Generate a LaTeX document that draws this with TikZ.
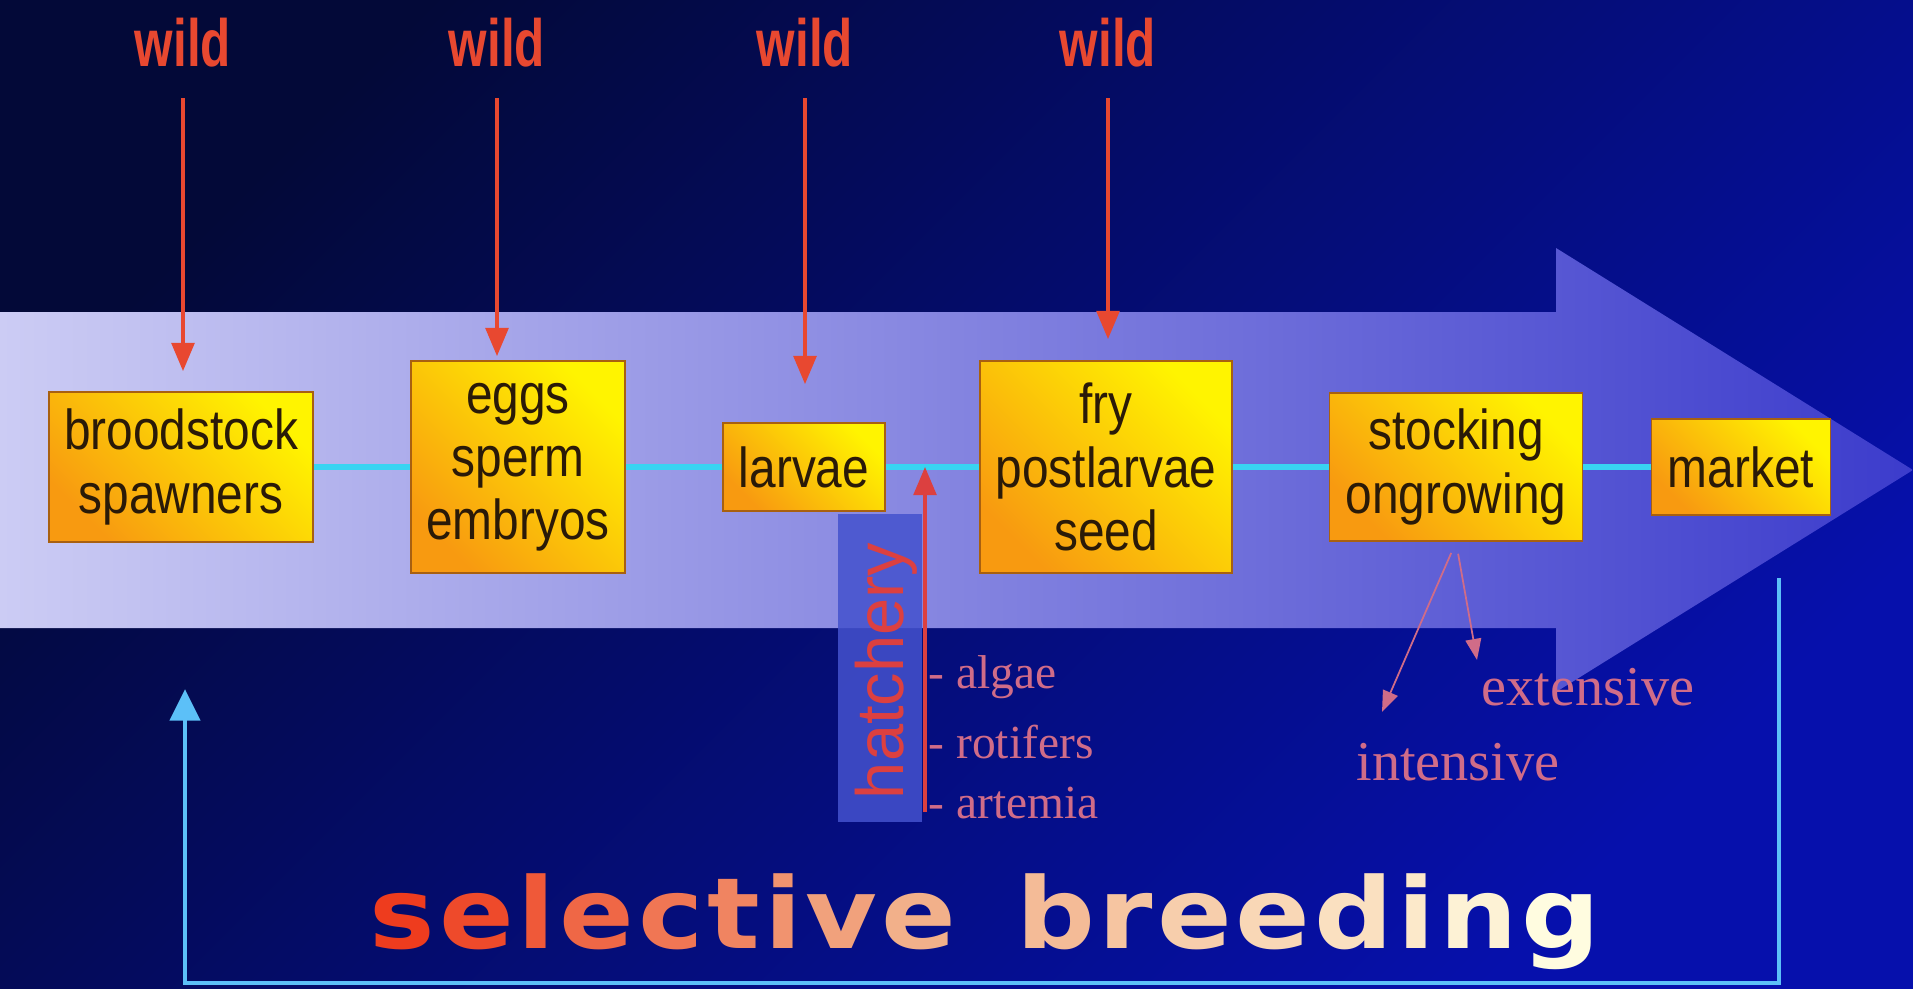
\documentclass[tikz,border=0pt]{standalone}
\usepackage{fontspec}
\setmainfont{Liberation Sans}
\newfontfamily\boxfont[FakeStretch=0.85]{Liberation Sans}
\newfontfamily\wildfont[FakeStretch=0.74]{Liberation Sans}
\newfontfamily\feedfont{Liberation Serif}
\newfontfamily\breedfont[FakeStretch=1.12]{DejaVu Sans}
\usetikzlibrary{arrows.meta}

\definecolor{bgdark}{HTML}{030938}
\definecolor{bgblue}{HTML}{0610AC}
\definecolor{shaftlight}{HTML}{CCCCF4}
\definecolor{headblue}{HTML}{3C3CCC}
\definecolor{stageyellow}{HTML}{FFF400}
\definecolor{stageorange}{HTML}{F89A10}
\definecolor{stageedge}{HTML}{A86010}
\definecolor{stagetext}{HTML}{2A1A08}
\definecolor{flowcyan}{HTML}{38D4F2}
\definecolor{loopblue}{HTML}{5CC0F8}
\definecolor{wildred}{HTML}{E84830}
\definecolor{hatchred}{HTML}{DC4040}
\definecolor{hatchblue}{HTML}{4452CE}
\definecolor{feedpink}{HTML}{D06C88}
\definecolor{sbred}{HTML}{EE3C1E}
\definecolor{sbpeach}{HTML}{F2B08A}
\definecolor{sbcream}{HTML}{FFFCE0}

\tikzset{
  stage/.style={rectangle, draw=stageedge, line width=0.5pt, inner sep=0pt,
    top color=stageyellow, bottom color=stageorange, shading angle=-45,
    align=center, text=stagetext, font=\boxfont\fontsize{16}{18}\selectfont},
  flowline/.style={flowcyan, line width=1.7pt},
  wildlabel/.style={inner sep=0pt, text=wildred, font=\wildfont\bfseries\fontsize{19}{21}\selectfont},
  wildarrow/.style={wildred, line width=0.9pt, -{Triangle[length=8pt,width=6.5pt]}},
  hatchpanel/.style={rectangle, fill=hatchblue, fill opacity=0.85, inner sep=0pt,
    minimum width=0.84cm, minimum height=3.07cm},
  hatchlabel/.style={inner sep=0pt, text=hatchred, font=\fontsize{19}{20}\selectfont},
  hatcharrow/.style={hatchred, line width=0.9pt, -{Triangle[length=8pt,width=6.5pt]}},
  feedlabel/.style={inner sep=0pt, anchor=west, text=feedpink, font=\feedfont\fontsize{13.5}{15}\selectfont},
  systemlabel/.style={inner sep=0pt, text=feedpink, font=\feedfont\fontsize{16}{18}\selectfont},
  systemarrow/.style={feedpink, line width=0.5pt, shorten <=0.12cm, -{Triangle[length=6pt,width=4.5pt]}},
  loopline/.style={loopblue, line width=1.4pt, -{Triangle[length=9pt,width=8.5pt]}},
  breedtext/.style={inner sep=0pt, anchor=base, font=\breedfont\bfseries\fontsize{28}{30}\selectfont}
}

\begin{document}
\begin{tikzpicture}[x=0.01cm,y=-0.01cm]
  % Background
  \useasboundingbox (0,0) rectangle (1913,988);
  \shade[top color=bgdark, bottom color=bgblue, shading angle=45] (0,0) rectangle (1913,988);

  % Big arrow
  \shade[left color=shaftlight, right color=headblue]
    (0,312) -- (1556,312) -- (1556,248) -- (1913,470) -- (1556,692) -- (1556,628) -- (0,628) -- cycle;

  % Hatchery panel
  \node[hatchpanel] (hatchbox) at (880,668) {};
  \node[hatchlabel, rotate=90] (hatchery) at (886,671) {hatchery};

  % Stages
  \node[stage, minimum width=2.64cm, minimum height=1.50cm] (brood) at (181,467) {broodstock\\spawners};
  \node[stage, minimum width=2.14cm, minimum height=2.12cm] (eggs) at (518,467) {eggs\\sperm\\embryos};
  \node[stage, minimum width=1.62cm, minimum height=0.88cm] (larvae) at (804,467) {larvae};
  \node[stage, minimum width=2.52cm, minimum height=2.12cm] (fry) at (1106,467) {fry\\postlarvae\\seed};
  \node[stage, minimum width=2.53cm, minimum height=1.48cm] (stock) at (1456,467) {stocking\\ongrowing};
  \node[stage, minimum width=1.79cm, minimum height=0.96cm] (market) at (1741,467) {market};

  % Flow line
  \foreach \a/\b in {brood/eggs,eggs/larvae,larvae/fry,fry/stock,stock/market}
    \draw[flowline] (\a) -- (\b);

  % Wild inputs
  \foreach \i/\x/\tgt/\gap in {1/183/brood/0.2,2/497/eggs/0.04,3/805/larvae/0.38,4/1108/fry/0.21}{
    \node[wildlabel] (wild\i) at (\x,43) {wild};
    \draw[wildarrow, shorten <=0.3cm, shorten >=\gap cm] (wild\i) -- (wild\i |- \tgt.north);
  }

  % Hatchery feeds
  \coordinate (hatchfoot) at (925,812);
  \draw[hatcharrow] (hatchfoot) -- (hatchfoot |- larvae.east);
  \node[feedlabel] (algae) at (928,677) {- algae};
  \node[feedlabel] (rotifers) at (928,742) {- rotifers};
  \node[feedlabel] (artemia) at (928,803) {- artemia};

  % Ongrowing systems
  \node[systemlabel] (extensive) at (1588,687) {extensive};
  \node[systemlabel] (intensive) at (1458,762) {intensive};
  \coordinate (intip) at (1382,712);
  \coordinate (extip) at (1477,660);
  \draw[systemarrow] (stock.south) -- (intip);
  \draw[systemarrow] (stock.south) -- (extip);

  % Selective breeding loop
  \coordinate (loopstart) at (1779,578);
  \coordinate (looptip) at (185,689);
  \draw[loopline] (loopstart) -- ++(0,405) -| (looptip);
  \node[breedtext] (breeding) at (987,948) {%
    \foreach \c/\p in {s/0,e/12,l/25,e/37,c/50,t/62,i/75,v/87,e/100}{\textcolor{sbpeach!\p!sbred}{\c}\hspace{1.1pt}}%
    \ \hspace{5pt}%
    \foreach \c/\p in {b/15,r/27,e/39,e/51,d/63,i/75,n/87,g/100}{\textcolor{sbcream!\p!sbpeach}{\c}\hspace{1.1pt}}\hspace{-1.1pt}};

\end{tikzpicture}
\end{document}
